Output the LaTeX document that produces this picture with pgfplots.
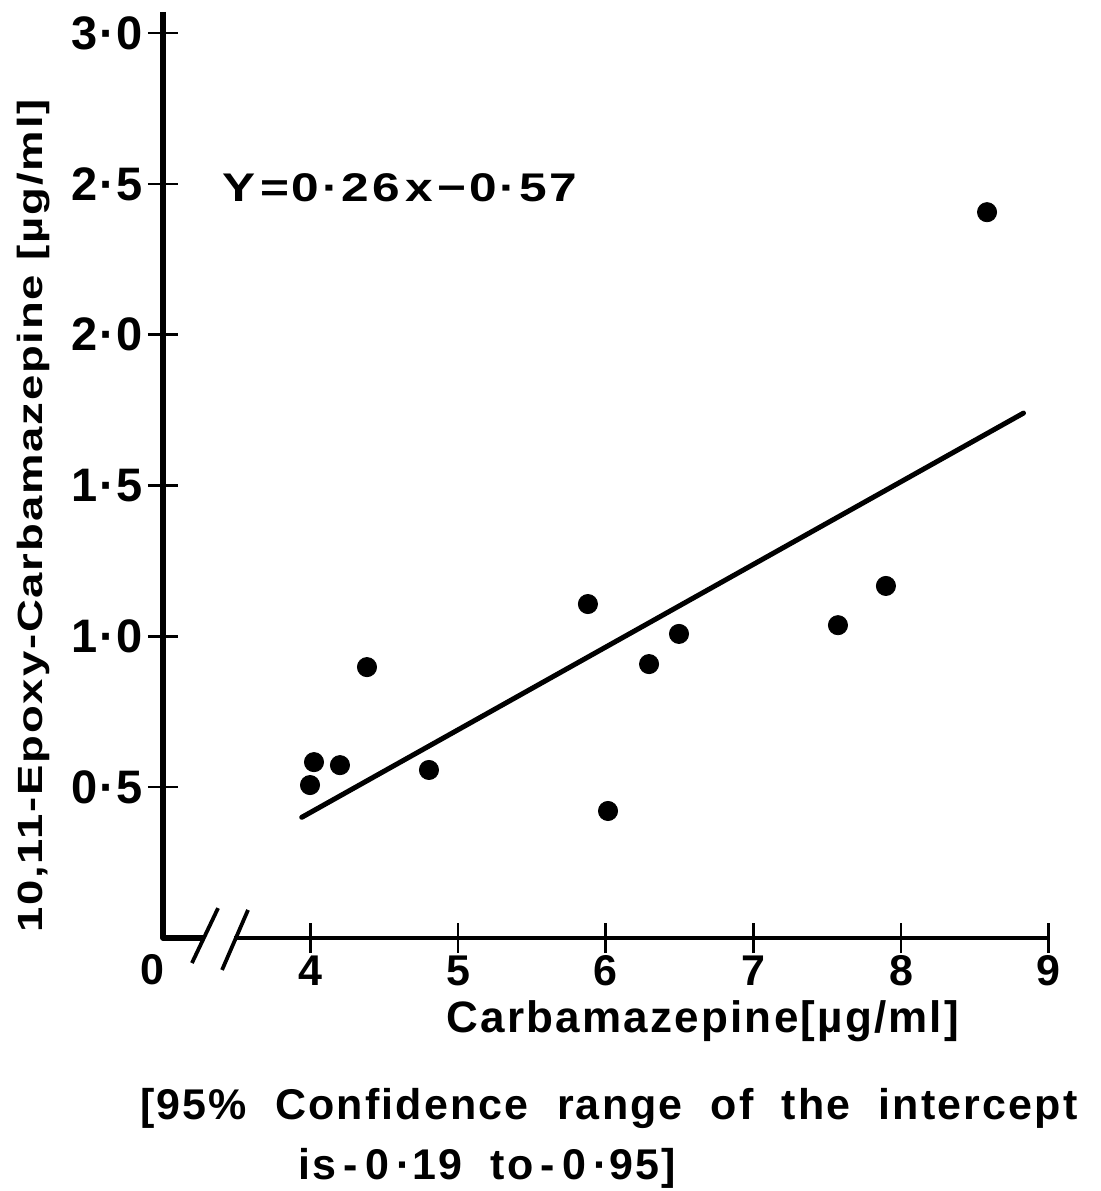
\documentclass[border=0pt]{standalone}
\usepackage{pgfplots}
\pgfplotsset{compat=1.18}
\usepackage{fontspec}
\setmainfont{Liberation Sans}
\newfontfamily\ylabfont[LetterSpace=4]{Liberation Sans}
\newfontfamily\eqfont[LetterSpace=6]{Liberation Sans}
\newfontfamily\capfont[LetterSpace=5]{Liberation Sans}
\newfontfamily\tickfont[LetterSpace=4]{Liberation Sans}
\begin{document}
\begin{tikzpicture}
\useasboundingbox (0,0) rectangle (550pt,595.5pt);
\begin{axis}[
  at={(81.5pt,126.5pt)}, anchor=south west,
  scale only axis, width=442.8pt, height=452.5pt,
  xmin=3, xmax=9, ymin=0, ymax=3,
  clip=false,
  axis x line*=bottom, axis y line*=left,
  axis line style={draw=none},
  xtick={4,5,6,7,8,9}, xticklabels={4,5,6,7,8,9},
  ytick={0.5,1,1.5,2,2.5,3}, yticklabels={0·5,1·0,1·5,2·0,2·5,3·0},
  tick align=center, major tick length=15pt,
  tick style={line width=1.3pt, black},
  xticklabel style={font=\tickfont\bfseries\fontsize{21.5}{24}\selectfont, anchor=center, yshift=-9pt},
  yticklabel style={font=\tickfont\bfseries\fontsize{23.5}{26}\selectfont, anchor=east, xshift=1pt},
]
\draw[line width=2.6pt, line join=round] (axis cs:3,3.07) -- (axis cs:3,0) -- (axis cs:3.27,0);
\draw[line width=2.4pt] (axis cs:3.48,0) -- (axis cs:9,0);
\draw[line width=1.9pt] (axis cs:3.196,-0.083) -- (axis cs:3.373,0.099);
\draw[line width=1.9pt] (axis cs:3.40,-0.106) -- (axis cs:3.576,0.093);
\addplot[only marks, mark=*, mark size=4.8pt, black] coordinates {
(3.996,0.507) (4.023,0.583) (4.199,0.573) (4.382,0.898) (4.802,0.557)
(5.879,1.107) (6.015,0.421) (6.293,0.908) (6.496,1.008) (7.573,1.037)
(7.898,1.167) (8.583,2.406)
};
\addplot[black, line width=2.5pt, line cap=round] coordinates {(3.94,0.40) (8.83,1.74)};
\end{axis}
\node[anchor=center] at (76pt,110.5pt) {\tickfont\bfseries\fontsize{21.5}{24}\selectfont 0};
\node[rotate=90, anchor=center] at (17pt,515.5pt-178pt) {\scalebox{1.3}[1]{\ylabfont\bfseries\fontsize{17.5}{20}\selectfont 10,11-Epoxy-Carbamazepine [µg/ml]}};
\node[anchor=west, inner sep=0pt] at (111pt,501.5pt) {\scalebox{1.24}[1]{\eqfont\bfseries\fontsize{20}{22}\selectfont Y\kern2pt=\kern1pt0·26\kern2pt x\kern2pt−\kern1pt0·57}};
\node[anchor=base, inner sep=0pt] at (351.5pt,79pt) {\capfont\bfseries\fontsize{22}{24}\selectfont Carbamazepine[µg/ml]};
\node[anchor=base west, inner sep=0pt] at (70pt,35.5pt) {\capfont\bfseries\fontsize{21.5}{24}\selectfont [95\%\ \ Confidence\ \ range\ \ of\ \ the\ \ intercept};
\node[anchor=base west, inner sep=0pt] at (149pt,5.5pt) {\capfont\bfseries\fontsize{21.5}{24}\selectfont is\,-\,0\,·19\ \ to\,-\,0\,·95]};
\end{tikzpicture}
\end{document}
